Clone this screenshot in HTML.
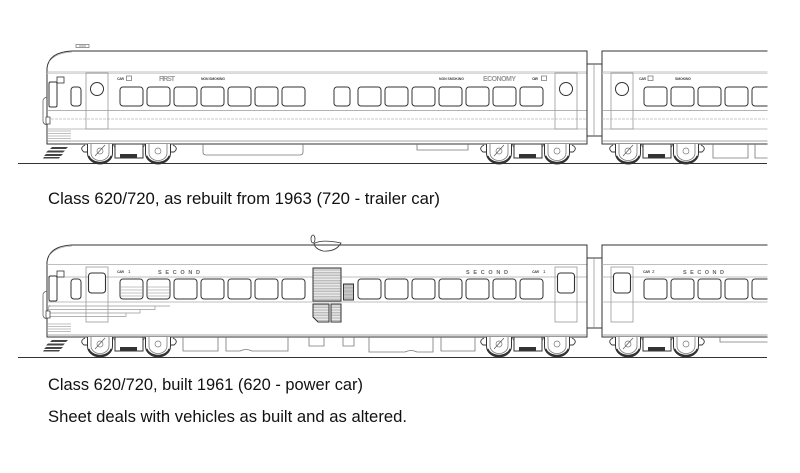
<!DOCTYPE html>
<html><head><meta charset="utf-8"><style>html,body{margin:0;padding:0;background:#fff}svg{display:block}</style></head>
<body>
<svg width="800" height="473" viewBox="0 0 800 473" xmlns="http://www.w3.org/2000/svg" font-family="'Liberation Sans', sans-serif">
<defs>
  <pattern id="hatch" width="4" height="1.6" patternUnits="userSpaceOnUse"><rect width="4" height="1.6" fill="#f4f4f4"/><line x1="0" y1="0.4" x2="4" y2="0.4" stroke="#888" stroke-width="0.5"/></pattern>
  <pattern id="hatch2" width="4" height="1.4" patternUnits="userSpaceOnUse"><rect width="4" height="1.4" fill="#ddd"/><line x1="0" y1="0.4" x2="4" y2="0.4" stroke="#888" stroke-width="0.5"/></pattern>
  <clipPath id="clip"><rect x="0" y="0" width="767.5" height="473"/></clipPath>
  <g id="wheel">
    <path d="M-12.5,0 V9 A12.5,11 0 0 0 12.5,9 V0" fill="#fff" stroke="#333" stroke-width="1"/>
    <path d="M-9,0 V9 A9,7.5 0 0 0 9,9 V0" fill="none" stroke="#777" stroke-width="0.8"/>
    <path d="M-11.5,12 A12,9.5 0 0 0 11.5,12" fill="none" stroke="#333" stroke-width="2"/>
    <circle cx="0" cy="7" r="3" fill="#fff" stroke="#777" stroke-width="0.7"/>
  </g>
  <g id="bogie">
    <use href="#wheel" x="0" y="0"/>
    <use href="#wheel" x="58" y="0"/>
    <path d="M-5,12 L5,1" stroke="#555" stroke-width="0.7"/>
    <rect x="15" y="0" width="28" height="14" fill="#fff" stroke="#333" stroke-width="1"/>
    <rect x="20" y="10" width="17" height="4" fill="#333"/>
    <path d="M-15,1 Q-21,4 -16,8 L-12,8 M73,1 Q79,4 74,8 L70,8" fill="none" stroke="#333" stroke-width="0.9"/>
    <path d="M13,0 L15,4 M45,0 L43,4" fill="none" stroke="#555" stroke-width="0.7"/>
  </g>
</defs>

<g clip-path="url(#clip)">
<!-- ===================== TOP TRAIN ===================== -->
<line x1="18" y1="163.5" x2="767" y2="163.5" stroke="#333" stroke-width="1"/>
<rect x="76" y="44.5" width="13" height="3" fill="none" stroke="#555" stroke-width="0.6"/>
<line x1="79" y1="46" x2="86" y2="46" stroke="#555" stroke-width="0.6"/>
<path d="M47,144 L47,68 Q49,52 72,51 L587,51 L587,144 Z" fill="#fff" stroke="#333" stroke-width="1"/>
<path d="M49,62 Q55,53 72,52" fill="none" stroke="#999" stroke-width="0.6"/>
<g stroke-width="0.8">
<line x1="47" y1="72" x2="587" y2="72" stroke="#aaa"/>
<line x1="47" y1="73.5" x2="587" y2="73.5" stroke="#ccc"/>
<line x1="47" y1="110.5" x2="587" y2="110.5" stroke="#999"/>
<line x1="47" y1="119" x2="587" y2="119" stroke="#bbb" stroke-dasharray="3,1"/>
<line x1="47" y1="129" x2="587" y2="129" stroke="#aaa"/>
<line x1="47" y1="141" x2="587" y2="141" stroke="#888"/>
</g>
<rect x="49" y="82" width="8" height="25" rx="1.5" fill="#fff" stroke="#333" stroke-width="1"/>
<rect x="57" y="77" width="7" height="6" fill="#fff" stroke="#333" stroke-width="0.8"/>
<path d="M47,97 Q43,98 43,101 L43,121 Q43,124 47,125" fill="none" stroke="#666" stroke-width="0.8"/>
<rect x="46" y="117" width="4" height="7" fill="#fff" stroke="#333" stroke-width="0.7"/>
<g stroke="#aaa" stroke-width="0.7">
<line x1="47" y1="131" x2="71" y2="131"/><line x1="47" y1="133.5" x2="71" y2="133.5"/><line x1="47" y1="136" x2="71" y2="136"/><line x1="47" y1="138.5" x2="71" y2="138.5"/>
</g>
<g fill="#444">
<path d="M52,147 L68,147 L66,149 L50,149 Z"/>
<path d="M48,150.5 L65,150.5 L63,152.5 L46,152.5 Z"/>
<path d="M46,154 L63,154 L61,156 L44,156 Z"/>
<path d="M44,157 L60,157 L59,158.5 L43,158.5 Z"/>
</g>
<rect x="71" y="87" width="10" height="19" rx="3" fill="#fff" stroke="#333" stroke-width="1"/>
<rect x="86" y="73" width="22" height="56" fill="none" stroke="#999" stroke-width="0.8"/>
<circle cx="97" cy="89" r="6.5" fill="#fff" stroke="#333" stroke-width="1"/>
<rect x="555" y="73" width="22" height="56" fill="none" stroke="#999" stroke-width="0.8"/>
<circle cx="566" cy="89" r="6.5" fill="#fff" stroke="#333" stroke-width="1"/>
<g fill="#fff" stroke="#333" stroke-width="1">
<rect x="120" y="87" width="23" height="19" rx="3"/><rect x="147" y="87" width="23" height="19" rx="3"/><rect x="174" y="87" width="23" height="19" rx="3"/><rect x="201" y="87" width="23" height="19" rx="3"/><rect x="228" y="87" width="23" height="19" rx="3"/><rect x="255" y="87" width="23" height="19" rx="3"/><rect x="282" y="87" width="23" height="19" rx="3"/>
<rect x="334" y="87" width="16" height="19" rx="3"/>
<rect x="358" y="87" width="23" height="19" rx="3"/><rect x="385" y="87" width="23" height="19" rx="3"/><rect x="412" y="87" width="23" height="19" rx="3"/><rect x="439" y="87" width="23" height="19" rx="3"/><rect x="466" y="87" width="23" height="19" rx="3"/><rect x="493" y="87" width="23" height="19" rx="3"/><rect x="520" y="87" width="23" height="19" rx="3"/>
</g>
<text x="117" y="80" font-size="3.5" font-weight="bold" fill="#444" textLength="7">CAR</text>
<rect x="126.5" y="76" width="5" height="4.5" fill="none" stroke="#555" stroke-width="0.6"/>
<text x="159" y="81" font-size="7" font-weight="bold" fill="#999" textLength="16">FIRST</text>
<text x="201" y="80" font-size="3.5" font-weight="bold" fill="#444" textLength="24">NON SMOKING</text>
<text x="439" y="80" font-size="3.5" font-weight="bold" fill="#444" textLength="25">NON SMOKING</text>
<text x="483" y="81" font-size="7" font-weight="bold" fill="#999" textLength="33">ECONOMY</text>
<text x="532" y="80" font-size="3.5" font-weight="bold" fill="#444" textLength="6">CAR</text>
<rect x="541.5" y="76" width="5" height="4.5" fill="none" stroke="#555" stroke-width="0.6"/>
<path d="M203,144 L203,152 Q203,155 206,155 L300,155 Q303,155 303,152 L303,144" fill="none" stroke="#777" stroke-width="0.8"/>
<path d="M417,144 L417,150 L468,150 L468,144" fill="none" stroke="#777" stroke-width="0.8"/>
<rect x="587" y="64" width="15" height="72" fill="#fff" stroke="#333" stroke-width="1"/>
<line x1="594" y1="64" x2="594" y2="136" stroke="#888" stroke-width="0.7"/>
<path d="M770,51 L602,51 L602,144 L770,144" fill="#fff" stroke="#333" stroke-width="1"/>
<g stroke-width="0.8">
<line x1="602" y1="72" x2="770" y2="72" stroke="#aaa"/>
<line x1="602" y1="73.5" x2="770" y2="73.5" stroke="#ccc"/>
<line x1="602" y1="110.5" x2="770" y2="110.5" stroke="#999"/>
<line x1="602" y1="119" x2="770" y2="119" stroke="#bbb" stroke-dasharray="3,1"/>
<line x1="602" y1="129" x2="770" y2="129" stroke="#aaa"/>
<line x1="602" y1="141" x2="770" y2="141" stroke="#888"/>
</g>
<rect x="611" y="73" width="22" height="56" fill="none" stroke="#999" stroke-width="0.8"/>
<circle cx="622" cy="89" r="6.5" fill="#fff" stroke="#333" stroke-width="1"/>
<g fill="#fff" stroke="#333" stroke-width="1">
<rect x="644" y="87" width="23" height="19" rx="3"/><rect x="671" y="87" width="23" height="19" rx="3"/><rect x="698" y="87" width="23" height="19" rx="3"/><rect x="725" y="87" width="23" height="19" rx="3"/><rect x="752" y="87" width="23" height="19" rx="3"/>
</g>
<text x="639" y="80" font-size="3.5" font-weight="bold" fill="#444" textLength="7">CAR</text>
<rect x="648" y="76" width="5" height="4.5" fill="none" stroke="#555" stroke-width="0.6"/>
<text x="675" y="80" font-size="3.5" font-weight="bold" fill="#444" textLength="16">SMOKING</text>
<path d="M713,144 L713,158 L748,158 L748,144 M755,144 L755,158 L770,158" fill="none" stroke="#777" stroke-width="0.8"/>
<use href="#bogie" x="100" y="144"/>
<use href="#bogie" x="499" y="144"/>
<use href="#bogie" x="628" y="144"/>

<!-- ===================== BOTTOM TRAIN ===================== -->
<line x1="18" y1="357.5" x2="767" y2="357.5" stroke="#333" stroke-width="1"/>
<ellipse cx="313" cy="239" rx="2" ry="4" fill="#fff" stroke="#333" stroke-width="0.8"/>
<path d="M314,243.5 Q322,239 341,243 Q336,252 323,251 Q315,249 314,243.5 Z" fill="#fff" stroke="#333" stroke-width="0.8"/>
<path d="M47,337 L47,262 Q49,246 72,245 L587,245 L587,337 Z" fill="none" stroke="#333" stroke-width="1"/>
<path d="M49,256 Q55,247 72,246" fill="none" stroke="#999" stroke-width="0.6"/>
<g stroke-width="0.8">
<line x1="47" y1="264.5" x2="587" y2="264.5" stroke="#aaa"/>
<line x1="47" y1="277" x2="587" y2="277" stroke="#aaa"/>
<line x1="47" y1="302" x2="587" y2="302" stroke="#aaa"/>
<line x1="47" y1="335" x2="587" y2="335" stroke="#888"/>
</g>
<g stroke="#999" stroke-width="0.7" fill="none">
<path d="M48,306 L170,306 M48,309.5 L155,309.5 L155,306 M48,313 L140,313 L140,309.5 M48,316.5 L126,316.5 L126,313"/>
<path d="M50,305 Q46,311 50,318"/>
</g>
<rect x="49" y="276" width="8" height="25" rx="1.5" fill="#fff" stroke="#333" stroke-width="1"/>
<rect x="57" y="271" width="7" height="6" fill="#fff" stroke="#333" stroke-width="0.8"/>
<path d="M47,291 Q43,292 43,295 L43,315 Q43,318 47,319" fill="none" stroke="#666" stroke-width="0.8"/>
<rect x="46" y="311" width="4" height="7" fill="#fff" stroke="#333" stroke-width="0.7"/>
<g stroke="#aaa" stroke-width="0.7">
<line x1="47" y1="324" x2="71" y2="324"/><line x1="47" y1="326.5" x2="71" y2="326.5"/><line x1="47" y1="329" x2="71" y2="329"/><line x1="47" y1="331.5" x2="71" y2="331.5"/>
</g>
<g fill="#444">
<path d="M52,340 L68,340 L66,342 L50,342 Z"/>
<path d="M48,343.5 L65,343.5 L63,345.5 L46,345.5 Z"/>
<path d="M46,347 L63,347 L61,349 L44,349 Z"/>
<path d="M44,350 L60,350 L59,351.5 L43,351.5 Z"/>
</g>
<rect x="71" y="279" width="10" height="20" rx="3" fill="#fff" stroke="#333" stroke-width="1"/>
<rect x="86" y="267" width="22" height="55" fill="none" stroke="#999" stroke-width="0.8"/>
<rect x="88.5" y="273" width="17" height="20" rx="3" fill="#fff" stroke="#333" stroke-width="1.1"/>
<rect x="555" y="267" width="22" height="55" fill="none" stroke="#999" stroke-width="0.8"/>
<rect x="557.5" y="273" width="17" height="20" rx="3" fill="#fff" stroke="#333" stroke-width="1.1"/>
<g fill="#fff" stroke="#333" stroke-width="1">
<rect x="120" y="279" width="23" height="20" rx="3"/><rect x="147" y="279" width="23" height="20" rx="3"/><rect x="174" y="279" width="23" height="20" rx="3"/><rect x="201" y="279" width="23" height="20" rx="3"/><rect x="228" y="279" width="23" height="20" rx="3"/><rect x="255" y="279" width="23" height="20" rx="3"/><rect x="282" y="279" width="23" height="20" rx="3"/>
<rect x="358" y="279" width="23" height="20" rx="3"/><rect x="385" y="279" width="23" height="20" rx="3"/><rect x="412" y="279" width="23" height="20" rx="3"/><rect x="439" y="279" width="23" height="20" rx="3"/><rect x="466" y="279" width="23" height="20" rx="3"/><rect x="493" y="279" width="23" height="20" rx="3"/><rect x="520" y="279" width="23" height="20" rx="3"/>
</g>
<g stroke="#888" stroke-width="0.6">
<line x1="121" y1="287" x2="142" y2="287"/><line x1="121" y1="290" x2="142" y2="290"/><line x1="121" y1="293" x2="142" y2="293"/><line x1="121" y1="296" x2="142" y2="296"/>
<line x1="148" y1="287" x2="169" y2="287"/><line x1="148" y1="290" x2="169" y2="290"/><line x1="148" y1="293" x2="169" y2="293"/><line x1="148" y1="296" x2="169" y2="296"/>
</g>
<rect x="313" y="268" width="28" height="33" fill="url(#hatch)" stroke="#333" stroke-width="1"/>
<path d="M313,304 L329,304 L329,322 L318,322 L313,317 Z" fill="url(#hatch)" stroke="#333" stroke-width="1"/>
<rect x="331" y="304" width="10" height="18" fill="url(#hatch)" stroke="#333" stroke-width="1"/>
<rect x="343.5" y="284" width="10" height="16" fill="url(#hatch2)" stroke="#333" stroke-width="1"/>
<text x="117" y="273" font-size="3.5" font-weight="bold" fill="#444" textLength="7">CAR</text>
<text x="128" y="273" font-size="4.5" fill="#444">1</text>
<text x="158" y="274" font-size="5.5" font-weight="bold" fill="#666" textLength="42">SECOND</text>
<text x="466" y="274" font-size="5.5" font-weight="bold" fill="#666" textLength="42">SECOND</text>
<text x="532" y="273" font-size="3.5" font-weight="bold" fill="#444" textLength="7">CAR</text>
<text x="543" y="273" font-size="4.5" fill="#444">1</text>
<g fill="none" stroke="#777" stroke-width="0.8">
<path d="M183,337 V351 H218 V337"/>
<path d="M226,337 V351 H240 Q246,348 252,351 H288 V337"/>
<path d="M309,337 V346 H324 V337"/>
<path d="M343,337 V346 H354 V337"/>
<path d="M369,337 V352 H405 Q411,349 417,352 H433 V337"/>
<path d="M441,337 V351 H475 V337"/>
</g>
<rect x="587" y="258" width="15" height="70" fill="#fff" stroke="#333" stroke-width="1"/>
<line x1="594" y1="258" x2="594" y2="328" stroke="#888" stroke-width="0.7"/>
<path d="M770,245 L602,245 L602,337 L770,337" fill="none" stroke="#333" stroke-width="1"/>
<g stroke-width="0.8">
<line x1="602" y1="264.5" x2="770" y2="264.5" stroke="#aaa"/>
<line x1="602" y1="277" x2="770" y2="277" stroke="#aaa"/>
<line x1="602" y1="302" x2="770" y2="302" stroke="#aaa"/>
<line x1="602" y1="335" x2="770" y2="335" stroke="#888"/>
</g>
<rect x="611" y="267" width="22" height="55" fill="none" stroke="#999" stroke-width="0.8"/>
<rect x="613.5" y="273" width="17" height="20" rx="3" fill="#fff" stroke="#333" stroke-width="1.1"/>
<g fill="#fff" stroke="#333" stroke-width="1">
<rect x="644" y="279" width="23" height="20" rx="3"/><rect x="671" y="279" width="23" height="20" rx="3"/><rect x="698" y="279" width="23" height="20" rx="3"/><rect x="725" y="279" width="23" height="20" rx="3"/><rect x="752" y="279" width="23" height="20" rx="3"/>
</g>
<text x="643" y="273" font-size="3.5" font-weight="bold" fill="#444" textLength="7">CAR</text>
<text x="652" y="273" font-size="4.5" fill="#444">2</text>
<text x="683" y="274" font-size="5.5" font-weight="bold" fill="#666" textLength="41">SECOND</text>
<path d="M720,337 L720,342 L770,342" fill="none" stroke="#777" stroke-width="0.8"/>
<use href="#bogie" x="100" y="337"/>
<use href="#bogie" x="499" y="337"/>
<use href="#bogie" x="628" y="337"/>
</g>

<text x="48" y="204" font-size="16.6" fill="#111" textLength="392" lengthAdjust="spacingAndGlyphs">Class 620/720, as rebuilt from 1963 (720 - trailer car)</text>
<text x="48" y="390" font-size="16.6" fill="#111" textLength="315" lengthAdjust="spacingAndGlyphs">Class 620/720, built 1961 (620 - power car)</text>
<text x="48" y="422" font-size="16.6" fill="#111" textLength="359" lengthAdjust="spacingAndGlyphs">Sheet deals with vehicles as built and as altered.</text>
</svg>
</body></html>
